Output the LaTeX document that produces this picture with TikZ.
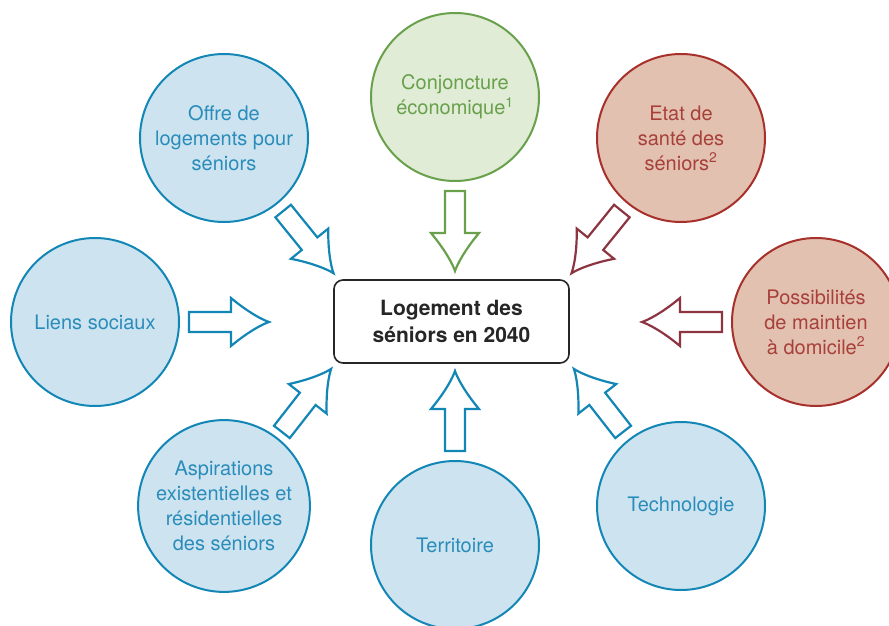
\documentclass[tikz,border=0pt]{standalone}
\usepackage{fontspec}
\setmainfont{TeX Gyre Heros}
\usepackage{tikz}

\definecolor{bleu}{HTML}{1286B5}
\definecolor{bleufond}{HTML}{CDE4F0}
\definecolor{bleutexte}{HTML}{2A8CBA}
\definecolor{vert}{HTML}{68A04C}
\definecolor{vertfond}{HTML}{E0ECD5}
\definecolor{rouge}{HTML}{A8302A}
\definecolor{rougefond}{HTML}{E3C1B1}
\definecolor{rougetexte}{HTML}{A8403A}
\definecolor{rougefleche}{HTML}{8C3540}

% block arrow leaving a circle (colour, node, angle)
\newcommand{\fleche}[3]{%
  \draw[line width=2.2pt, #1, shift={(#2.center)}, rotate=#3]
    (94,-10) -- (136,-10) -- (136,-24)
    .. controls (154,-9) and (168,-2) .. (174,0)
    .. controls (168,2) and (154,9) .. (136,24)
    -- (136,10) -- (94,10) -- cycle;}

\begin{document}
\begin{tikzpicture}[x=1pt,y=1pt,
    rond/.style={circle, minimum size=168pt, line width=2pt, align=center,
      font=\fontsize{20}{25}\selectfont},
    bleurond/.style={rond, draw=bleu, fill=bleufond, text=bleutexte},
    vertrond/.style={rond, draw=vert, fill=vertfond, text=vert},
    rougerond/.style={rond, draw=rouge, fill=rougefond, text=rougetexte}]

    \useasboundingbox (0,0) rectangle (889,625);
    \clip (0,0) rectangle (889,625);

    % Draw the central box
    \node[draw=black!85, line width=1.6pt, rounded corners=9pt, minimum width=235pt,
      minimum height=83pt, align=center, text=black!85,
      font=\bfseries\fontsize{21}{27}\selectfont] (logement) at (451.5,303.5)
      {Logement des\\séniors en 2040};

    % Draw the circles
    \node[bleurond] (offre) at (224,487) {Offre de\\logements pour\\séniors};
    \node[vertrond] (conjoncture) at (455,528) {Conjoncture\\économique\textsuperscript{1}};
    \node[rougerond] (sante) at (681,487) {Etat de\\santé des\\séniors\textsuperscript{2}};
    \node[bleurond] (liens) at (95,303) {Liens sociaux};
    \node[rougerond] (maintien) at (816,303) {Possibilités\\de maintien\\à domicile\textsuperscript{2}};
    \node[bleurond] (aspirations) at (224,119) {Aspirations\\existentielles et\\résidentielles\\des séniors};
    \node[bleurond] (territoire) at (455,80) {Territoire};
    \node[bleurond] (technologie) at (681,119) {Technologie};

    % Add the arrows
    \fleche{bleu}{offre}{-51}
    \fleche{vert}{conjoncture}{-90}
    \fleche{rougefleche}{sante}{-129}
    \fleche{bleu}{liens}{0}
    \fleche{rougefleche}{maintien}{180}
    \fleche{bleu}{aspirations}{52}
    \fleche{bleu}{territoire}{90}
    \fleche{bleu}{technologie}{128}
\end{tikzpicture}
\end{document}
